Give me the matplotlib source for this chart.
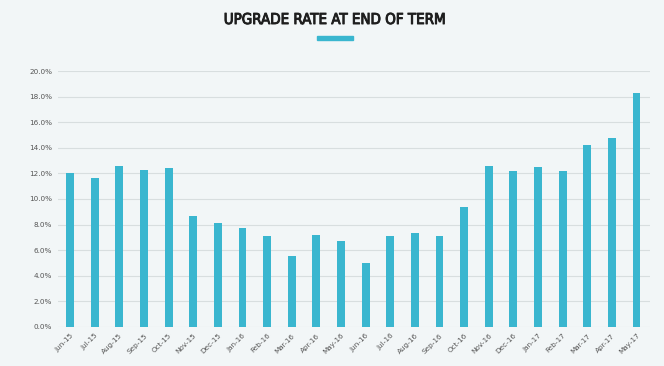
import matplotlib
matplotlib.use("Agg")
import matplotlib.pyplot as plt
import matplotlib.patheffects as pe
from matplotlib.patches import Rectangle

months = ["Jun-15", "Jul-15", "Aug-15", "Sep-15", "Oct-15", "Nov-15", "Dec-15",
          "Jan-16", "Feb-16", "Mar-16", "Apr-16", "May-16", "Jun-16", "Jul-16",
          "Aug-16", "Sep-16", "Oct-16", "Nov-16", "Dec-16", "Jan-17", "Feb-17",
          "Mar-17", "Apr-17", "May-17"]
rates = [12.0, 11.6, 12.6, 12.3, 12.4, 8.7, 8.1, 7.7, 7.1, 5.5, 7.2, 6.7,
         5.0, 7.1, 7.3, 7.1, 9.4, 12.6, 12.2, 12.5, 12.2, 14.2, 14.8, 18.3]
yticks = [0, 2, 4, 6, 8, 10, 12, 14, 16, 18, 20]

bg = "#f2f6f7"
bar_color = "#3ab6cf"

fig = plt.figure(figsize=(6.64, 3.66), dpi=100, facecolor=bg)
ax = fig.add_axes([0.087, 0.107, 0.892, 0.699], facecolor=bg)

x = list(range(len(months)))
ax.bar(x, rates, width=0.32, color=bar_color, zorder=3)

ax.set_xlim(-0.5, len(months) - 0.45)
ax.set_ylim(0, 20)
ax.set_yticks(yticks)
ax.set_yticklabels([f"{v:.1f}%" for v in yticks], fontsize=5.2, color="#555555")
ax.set_xticks(x)
ax.set_xticklabels(months, rotation=45, ha="right", rotation_mode="anchor",
                   fontsize=5.2, color="#555555")
ax.tick_params(axis="both", length=0, pad=4)
ax.grid(axis="y", color="#d8dedf", linewidth=0.8, zorder=0)
for s in ax.spines.values():
    s.set_visible(False)

fig.text(335 / 664, 1 - 19.5 / 366, "UPGRADE RATE AT END OF TERM", ha="center",
         va="center", fontsize=10.8, fontweight="normal", fontstretch="condensed",
         color="#1e1e1e", family=["DejaVu Sans"],
         path_effects=[pe.withStroke(linewidth=0.7, foreground="#1e1e1e")])
fig.patches.append(Rectangle((317 / 664, 1 - 40 / 366), 36 / 664, 4 / 366,
                             transform=fig.transFigure, color="#3ab6cf",
                             figure=fig))

fig.savefig("out.png", dpi=100, facecolor=bg)
